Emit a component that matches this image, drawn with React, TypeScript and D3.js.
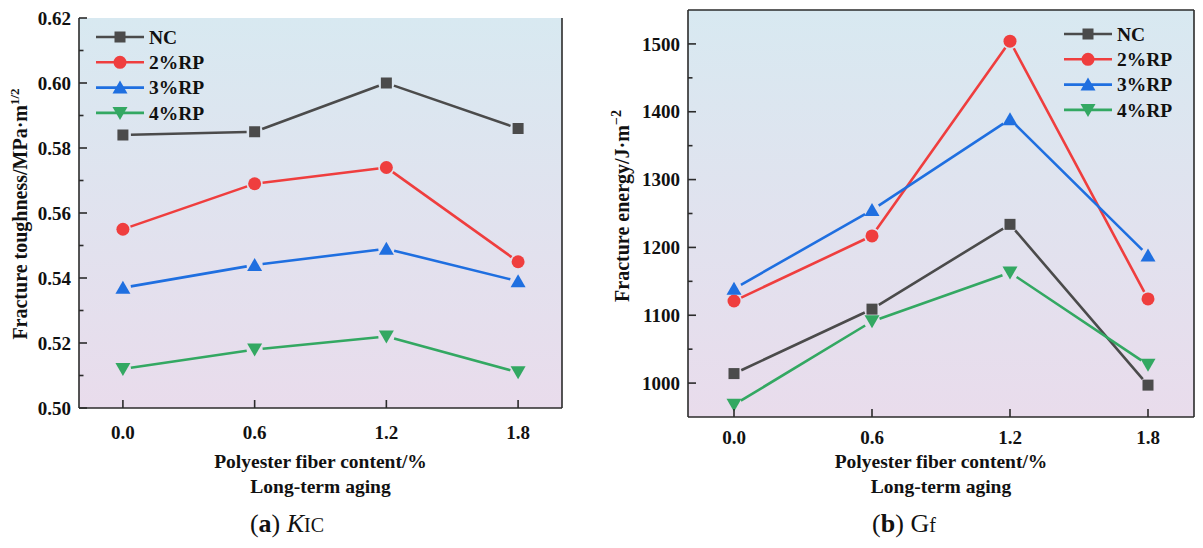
import * as d3 from 'd3';
import React from 'react';

const fiberContent = [0.0, 0.6, 1.2, 1.8];
const seriesNames = ['NC', '2%RP', '3%RP', '4%RP'];

// (a) fracture toughness KIC, MPa·m^1/2
const toughnessNC = [0.584, 0.585, 0.6, 0.586];
const toughness2RP = [0.555, 0.569, 0.574, 0.545];
const toughness3RP = [0.537, 0.544, 0.549, 0.539];
const toughness4RP = [0.512, 0.518, 0.522, 0.511];

// (b) fracture energy Gf, J·m^-2
const energyNC = [1014, 1109, 1234, 997];
const energy2RP = [1121, 1217, 1504, 1124];
const energy3RP = [1139, 1255, 1389, 1188];
const energy4RP = [968, 1091, 1163, 1027];

const xTicks = ['0.0', '0.6', '1.2', '1.8'];
const toughnessTicks = [0.5, 0.52, 0.54, 0.56, 0.58, 0.6, 0.62];
const energyTicks = [1000, 1100, 1200, 1300, 1400, 1500];

const colors = ['#4b4b4b', '#ef3e3e', '#1f6fe0', '#33a862'];
const shapes = ['square', 'circle', 'up', 'down'];
const serif = "'Liberation Serif', 'Times New Roman', serif";

function Marker({ shape, cx, cy, color }: { shape: string; cx: number; cy: number; color: string }) {
  if (shape === 'square') return <rect x={cx - 5.5} y={cy - 5.5} width={11} height={11} fill={color} />;
  if (shape === 'circle') return <circle cx={cx} cy={cy} r={6.5} fill={color} />;
  if (shape === 'up')
    return <path d={`M${cx},${cy - 7} L${cx + 7.5},${cy + 6} L${cx - 7.5},${cy + 6}Z`} fill={color} />;
  return <path d={`M${cx},${cy + 7} L${cx + 7.5},${cy - 6} L${cx - 7.5},${cy - 6}Z`} fill={color} />;
}

// Origin style: line segments stop short of the markers
function gappedSegments(pts: [number, number][], gap: number) {
  const segs: string[] = [];
  for (let i = 0; i < pts.length - 1; i++) {
    const [x1, y1] = pts[i];
    const [x2, y2] = pts[i + 1];
    const len = Math.hypot(x2 - x1, y2 - y1);
    const ux = (x2 - x1) / len;
    const uy = (y2 - y1) / len;
    segs.push(`M${x1 + ux * gap},${y1 + uy * gap}L${x2 - ux * gap},${y2 - uy * gap}`);
  }
  return segs.join('');
}

interface PanelProps {
  id: string;
  series: number[][];
  yDomain: [number, number];
  yTicks: number[];
  yMinor: number[];
  yFormat: (v: number) => string;
  left: number;
  right: number;
  top: number;
  bottom: number;
  topBorder: boolean;
  legendX: number;
  legendY: number;
  yLabel: React.ReactNode;
  yLabelX: number;
  yLabelY: number;
  tickLabelY: number;
  titleY: number;
}

function Panel(p: PanelProps) {
  const x = d3.scaleLinear().domain([-0.2, 2.0]).range([p.left, p.right]);
  const y = d3.scaleLinear().domain(p.yDomain).range([p.bottom, p.top]);
  const cxTitle = (p.left + p.right) / 2;
  return (
    <g>
      <defs>
        <linearGradient id={`bg-${p.id}`} x1="0" y1="0" x2="0" y2="1">
          <stop offset="0%" stopColor="#d8e9f1" />
          <stop offset="100%" stopColor="#e9dcec" />
        </linearGradient>
      </defs>
      <rect x={p.left} y={p.top} width={p.right - p.left} height={p.bottom - p.top} fill={`url(#bg-${p.id})`} />

      {p.series.map((vals, si) => {
        const pts = vals.map((v, i) => [x(fiberContent[i]), y(v)] as [number, number]);
        return (
          <g key={si}>
            <path d={gappedSegments(pts, 8)} stroke={colors[si]} strokeWidth={2.6} fill="none" />
            {pts.map(([px, py], i) => (
              <Marker key={i} shape={shapes[si]} cx={px} cy={py} color={colors[si]} />
            ))}
          </g>
        );
      })}

      {/* frame */}
      <g stroke="#2b2b2b" strokeWidth={1.6} fill="none">
        <line x1={p.left} x2={p.left} y1={p.top} y2={p.bottom} />
        <line x1={p.left} x2={p.right} y1={p.bottom} y2={p.bottom} />
        <line x1={p.right} x2={p.right} y1={p.top} y2={p.bottom} />
        {p.topBorder && <line x1={p.left} x2={p.right} y1={p.top} y2={p.top} />}
        {p.yTicks.map((t) => (
          <line key={t} x1={p.left} x2={p.left + 8} y1={y(t)} y2={y(t)} />
        ))}
        {p.yMinor.map((t) => (
          <line key={t} x1={p.left} x2={p.left + 4.5} y1={y(t)} y2={y(t)} />
        ))}
        {fiberContent.map((t) => (
          <line key={t} x1={x(t)} x2={x(t)} y1={p.bottom} y2={p.bottom - 8} />
        ))}
      </g>

      <g style={{ fontFamily: serif, fontWeight: 'bold', fontSize: 19 }} fill="#111">
        {p.yTicks.map((t) => (
          <text key={t} x={p.left - 8} y={y(t)} dy="0.35em" textAnchor="end">
            {p.yFormat(t)}
          </text>
        ))}
        {fiberContent.map((t, i) => (
          <text key={t} x={x(t)} y={p.tickLabelY} textAnchor="middle">
            {xTicks[i]}
          </text>
        ))}
      </g>

      <g style={{ fontFamily: serif, fontWeight: 'bold', fontSize: 19.5 }} fill="#111" textAnchor="middle">
        <text x={cxTitle} y={p.titleY}>Polyester fiber content/%</text>
        <text x={cxTitle} y={p.titleY + 25}>Long-term aging</text>
      </g>

      <text
        transform={`translate(${p.yLabelX},${p.yLabelY}) rotate(-90)`}
        textAnchor="middle"
        style={{ fontFamily: serif, fontWeight: 'bold', fontSize: 20 }}
        fill="#111"
      >
        {p.yLabel}
      </text>

      <g style={{ fontFamily: serif, fontWeight: 'bold', fontSize: 19.5 }} fill="#111">
        {seriesNames.map((name, i) => {
          const ly = p.legendY + i * 25.3;
          return (
            <g key={name}>
              <line x1={p.legendX} x2={p.legendX + 48} y1={ly} y2={ly} stroke={colors[i]} strokeWidth={2.6} />
              <Marker shape={shapes[i]} cx={p.legendX + 24} cy={ly} color={colors[i]} />
              <text x={p.legendX + 53} y={ly} dy="0.35em">
                {name}
              </text>
            </g>
          );
        })}
      </g>
    </g>
  );
}

export default function App() {
  return (
    <svg
      width={1203}
      height={548}
      style={{ position: 'absolute', left: 0, top: 0, background: '#fff' }}
    >
      <Panel
        id="a"
        series={[toughnessNC, toughness2RP, toughness3RP, toughness4RP]}
        yDomain={[0.5, 0.62]}
        yTicks={toughnessTicks}
        yMinor={[0.51, 0.53, 0.55, 0.57, 0.59, 0.61]}
        yFormat={(v) => v.toFixed(2)}
        left={79}
        right={562}
        top={18}
        bottom={408}
        topBorder={false}
        legendX={96}
        legendY={37}
        yLabel={
          <>
            Fracture toughness/MPa·m
            <tspan dy={-8} style={{ fontSize: 13 }}>1/2</tspan>
          </>
        }
        yLabelX={27}
        yLabelY={214}
        tickLabelY={439}
        titleY={468}
      />
      <Panel
        id="b"
        series={[energyNC, energy2RP, energy3RP, energy4RP]}
        yDomain={[950, 1550]}
        yTicks={energyTicks}
        yMinor={[1050, 1150, 1250, 1350, 1450]}
        yFormat={(v) => String(v)}
        left={688}
        right={1194}
        top={10}
        bottom={417}
        topBorder={true}
        legendX={1064}
        legendY={34}
        yLabel={
          <>
            Fracture energy/J·m
            <tspan dy={-8} style={{ fontSize: 14 }}>−2</tspan>
          </>
        }
        yLabelX={629}
        yLabelY={206}
        tickLabelY={444}
        titleY={468}
      />

      <g fill="#111" style={{ fontFamily: serif }}>
        <text x={287} y={532} textAnchor="middle" style={{ fontSize: 26 }}>
          <tspan>(</tspan>
          <tspan style={{ fontWeight: 'bold' }}>a</tspan>
          <tspan>) </tspan>
          <tspan style={{ fontStyle: 'italic' }}>K</tspan>
          <tspan style={{ fontSize: 20 }}>IC</tspan>
        </text>
        <text x={904} y={532} textAnchor="middle" style={{ fontSize: 26 }}>
          <tspan>(</tspan>
          <tspan style={{ fontWeight: 'bold' }}>b</tspan>
          <tspan>) </tspan>
          <tspan>G</tspan>
          <tspan style={{ fontSize: 20 }}>f</tspan>
        </text>
      </g>
    </svg>
  );
}
